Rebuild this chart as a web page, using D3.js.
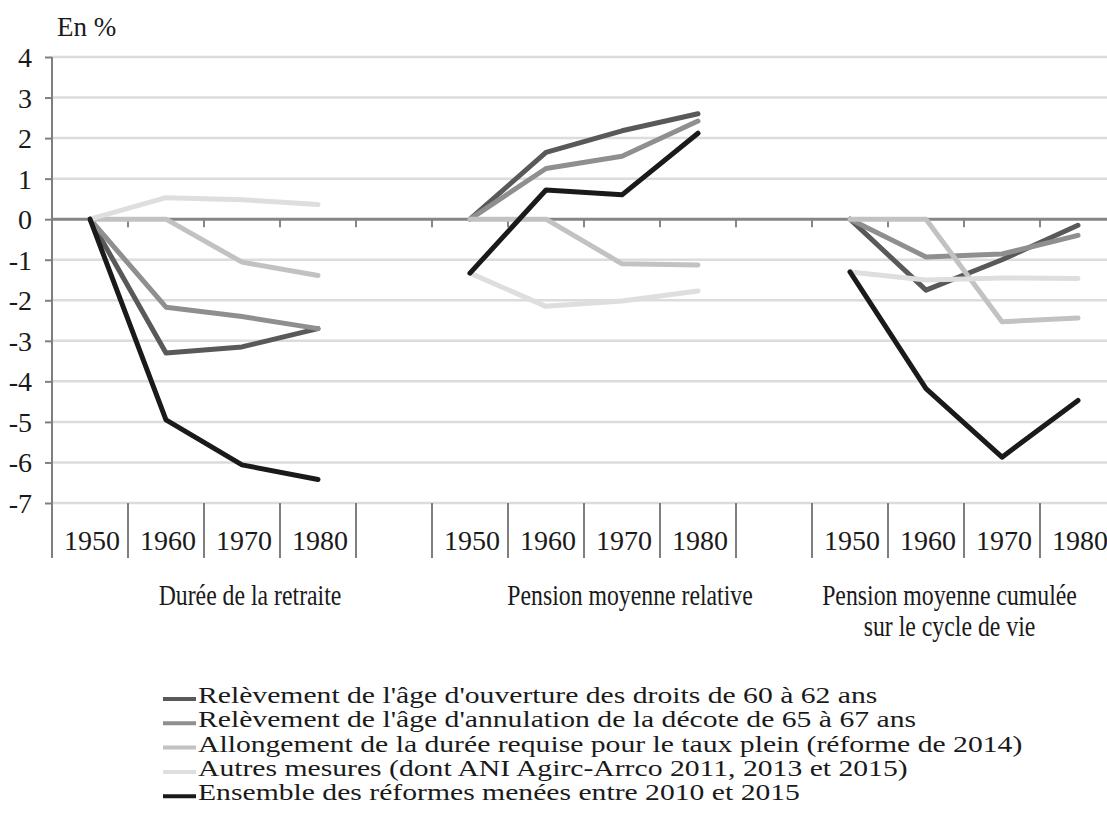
<!DOCTYPE html>
<html>
<head>
<meta charset="utf-8">
<script src="https://cdn.jsdelivr.net/npm/d3@7"></script>
<style>
  body { margin: 0; background: #fff; }
  svg text { font-family: "Liberation Serif", "DejaVu Serif", serif; fill: #1a1a1a; }
</style>
</head>
<body>
<svg id="chart" width="1107" height="825"></svg>
<script>
// categories
var groups = ["Durée de la retraite", "Pension moyenne relative", "Pension moyenne cumulée\nsur le cycle de vie"];
var years = ["1950", "1960", "1970", "1980"];
var yTicks = [4, 3, 2, 1, 0, -1, -2, -3, -4, -5, -6, -7];

// series: one row per group, one value per year
var ouverture  = [[0, -3.3, -3.15, -2.7], [0, 1.65, 2.18, 2.6], [0, -1.75, -1.0, -0.15]];
var decote     = [[0, -2.17, -2.4, -2.7], [0, 1.25, 1.55, 2.42], [0, -0.93, -0.86, -0.4]];
var allongement = [[0, 0, -1.06, -1.39], [0, 0, -1.1, -1.13], [0, 0, -2.53, -2.44]];
var autres     = [[0, 0.53, 0.48, 0.36], [-1.33, -2.15, -2.02, -1.77], [-1.3, -1.5, -1.45, -1.46]];
var ensemble   = [[0, -4.95, -6.06, -6.42], [-1.33, 0.72, 0.6, 2.12], [-1.3, -4.18, -5.87, -4.47]];

var seriesNames = [
    "Relèvement de l'âge d'ouverture des droits de 60 à 62 ans",
    "Relèvement de l'âge d'annulation de la décote de 65 à 67 ans",
    "Allongement de la durée requise pour le taux plein (réforme de 2014)",
    "Autres mesures (dont ANI Agirc-Arrco 2011, 2013 et 2015)",
    "Ensemble des réformes menées entre 2010 et 2015"
];
var seriesData = [ouverture, decote, allongement, autres, ensemble];
var seriesColors = ["#595959", "#8f8f8f", "#c2c2c2", "#dedede", "#1a1a1a"];

var serif = "'Liberation Serif', 'DejaVu Serif', serif";
var svg = d3.select("#chart");

// category keys: 4 years per group, one blank slot between groups
var keys = [];
groups.forEach(function (g, gi) {
    years.forEach(function (y) { keys.push(gi + "-" + y); });
    if (gi < groups.length - 1) keys.push(gi + "-blank");
});

var left = 52, band = 76;
var xScale = d3.scaleBand().domain(keys).range([left, left + keys.length * band]).padding(0);
var yScale = d3.scaleLinear().domain([-7, 4]).range([503, 57]);
var xEnd = 1107;
var labelBottom = 558;

// gridlines
svg.append("g")
    .selectAll("line")
    .data(yTicks.filter(function (d) { return d != 0; }))
    .enter().append("line")
    .attr("x1", left).attr("x2", xEnd)
    .attr("y1", function (d) { return yScale(d); })
    .attr("y2", function (d) { return yScale(d); })
    .attr("stroke", "#dcdcdc")
    .attr("stroke-width", 2.5);

// y axis
var yAxis = svg.append("g")
    .attr("transform", "translate(" + left + ",0)")
    .call(d3.axisLeft(yScale).tickValues(yTicks).tickSize(7).tickPadding(13).tickFormat(function (d) { return d; }));
yAxis.attr("font-family", serif);
yAxis.select(".domain").remove();
yAxis.selectAll(".tick line").attr("stroke", "#7f7f7f").attr("stroke-width", 2);
yAxis.selectAll(".tick text")
    .attr("font-size", 28)
    .attr("dy", "0.34em");
svg.append("line")
    .attr("x1", left).attr("x2", left)
    .attr("y1", yScale(4)).attr("y2", labelBottom)
    .attr("stroke", "#7f7f7f").attr("stroke-width", 2);

svg.append("text")
    .attr("x", 57).attr("y", 36)
    .attr("font-family", serif)
    .attr("font-size", 27)
    .text("En %");

// category boundaries
var bounds = keys.map(function (k) { return xScale(k); });
bounds.push(xScale(keys[keys.length - 1]) + band);

// zero axis with ticks
svg.append("line")
    .attr("x1", left).attr("x2", xEnd)
    .attr("y1", yScale(0)).attr("y2", yScale(0))
    .attr("stroke", "#858585").attr("stroke-width", 3);
svg.append("g")
    .selectAll("line")
    .data(bounds.slice(1))
    .enter().append("line")
    .attr("x1", function (d) { return d; }).attr("x2", function (d) { return d; })
    .attr("y1", yScale(0)).attr("y2", yScale(0) + 8)
    .attr("stroke", "#858585").attr("stroke-width", 2);

// separators in label zone
svg.append("g")
    .selectAll("line")
    .data(bounds.slice(1))
    .enter().append("line")
    .attr("x1", function (d) { return d; }).attr("x2", function (d) { return d; })
    .attr("y1", yScale(-7)).attr("y2", labelBottom)
    .attr("stroke", "#7f7f7f").attr("stroke-width", 2);

// year labels
svg.append("g")
    .selectAll("text")
    .data(keys.filter(function (k) { return k.indexOf("blank") < 0; }))
    .enter().append("text")
    .attr("x", function (d) { return xScale(d) + band / 2 + 2; })
    .attr("y", 550)
    .attr("text-anchor", "middle")
    .attr("font-family", serif)
    .attr("font-size", 28)
    .text(function (d) { return d.split("-")[1]; });

// group labels (first two span their blank slot, last one runs to the edge)
groups.forEach(function (g, gi) {
    var x0 = xScale(gi + "-1950");
    var x1 = gi < groups.length - 1 ? xScale(gi + "-blank") + band : xEnd;
    var cx = (x0 + x1) / 2 + (gi < groups.length - 1 ? 8 : -10);
    var t = svg.append("text")
        .attr("transform", "translate(" + cx + ",605) scale(0.82,1)")
        .attr("text-anchor", "middle")
        .attr("font-family", serif)
        .attr("font-size", 29);
    g.split("\n").forEach(function (line, li) {
        t.append("tspan").attr("x", 0).attr("y", li * 31).text(line);
    });
});

// series lines
var line = d3.line()
    .x(function (d) { return xScale(d.key) + band / 2; })
    .y(function (d) { return yScale(d.value); });

seriesData.forEach(function (s, si) {
    s.forEach(function (vals, gi) {
        var pts = vals.map(function (v, j) { return { key: gi + "-" + years[j], value: v }; });
        svg.append("path")
            .attr("d", line(pts))
            .attr("fill", "none")
            .attr("stroke", seriesColors[si])
            .attr("stroke-width", 5)
            .attr("stroke-linejoin", "round")
            .attr("stroke-linecap", "round");
    });
});

// legend
var legend = svg.append("g");
seriesNames.forEach(function (name, i) {
    var y = 703 + i * 24.3;
    legend.append("line")
        .attr("x1", 163).attr("x2", 196)
        .attr("y1", y - 4).attr("y2", y - 4)
        .attr("stroke", seriesColors[i]).attr("stroke-width", 4);
    legend.append("text")
        .attr("transform", "translate(198," + y + ") scale(1.29,1)")
        .attr("font-family", serif)
        .attr("font-size", 23)
        .text(name);
});
</script>
</body>
</html>
